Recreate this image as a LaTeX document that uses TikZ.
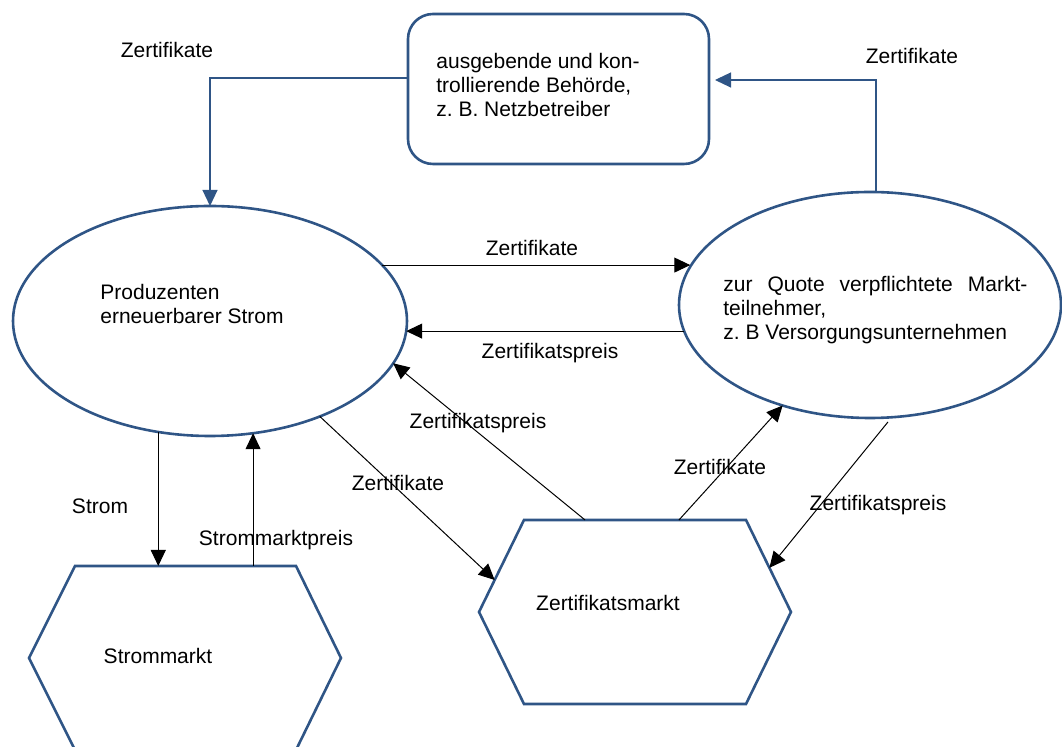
\documentclass[tikz,border=0pt]{standalone}
\usepackage{fontspec}
\setmainfont{Liberation Sans}
\usetikzlibrary{arrows.meta,calc,shapes.geometric}
\definecolor{shapeblue}{RGB}{47,85,134}
\tolerance=9999
\hyphenpenalty=10000
\begin{document}
\begin{tikzpicture}[x=0.5pt,y=-0.5pt,
  font=\fontsize{10.5}{12}\selectfont,
  shapeline/.style={draw=shapeblue, line width=1.3pt, inner sep=0pt, outer sep=0pt},
  blueflow/.style={draw=shapeblue, line width=0.6pt, -{Triangle[length=8pt,width=7.5pt]}},
  flow/.style={draw=black, line width=0.5pt, -{Triangle[length=8pt,width=7.5pt]}},
  lbl/.style={inner sep=0pt, text height=7.5pt, text depth=0pt}]
\useasboundingbox (0,0) rectangle (1062,747);

% shapes
\node[shapeline, rounded corners=12.5pt, minimum width=150.5pt, minimum height=75pt] (box) at (558.5,89) {};
\node[shapeline, ellipse, minimum width=197pt, minimum height=115pt] (L) at (210,321) {};
\node[shapeline, ellipse, minimum width=191pt, minimum height=113pt] (R) at (870,305) {};

\coordinate (s1) at (75,566);  \coordinate (s2) at (296,566);
\coordinate (s3) at (341,658); \coordinate (s4) at (296,750);
\coordinate (s5) at (75,750);  \coordinate (s6) at (29,658);
\draw[shapeline] (s1) -- (s2) -- (s3) -- (s4) -- (s5) -- (s6) -- cycle;

\coordinate (z1) at (524,520); \coordinate (z2) at (746,520);
\coordinate (z3) at (791,612); \coordinate (z4) at (746,704);
\coordinate (z5) at (524,704); \coordinate (z6) at (479,612);
\draw[shapeline] (z1) -- (z2) -- (z3) -- (z4) -- (z5) -- (z6) -- cycle;

% texts in shapes
\node[inner sep=0pt, anchor=west, align=left] (boxtxt) at (436,85) {ausgebende und kon-\\trollierende Behörde,\\z.\ B.\ Netzbetreiber};
\node[inner sep=0pt, anchor=west, align=left] (Ltxt) at (100,304) {Produzenten\\erneuerbarer Strom};
\node[inner sep=0pt, anchor=west, text width=152pt, align=justify] (Rtxt) at (723,310) {zur Quote verpflichtete Markt-\linebreak teilnehmer,\newline z.\ B Versorgungsunternehmen};
\node[lbl] (tS) at (158,656) {Strommarkt};
\node[lbl] (tZ) at (608,603) {Zertifikatsmarkt};

% connectors
\draw[blueflow] ([yshift=5.5pt]box.west) -| (L.north);
\draw[blueflow, shorten >=3pt] ([xshift=3pt]R.north) |- ([yshift=4.5pt]box.east);
\draw[flow] (L.18) -- (L.18 -| R.168);
\draw[flow] (R.188) -- (L.357 |- R.188);
\draw[flow] ($(z1)!0.275!(z2)$) -- (L.347);
\draw[flow] (L.319) -- ($(z1)!0.652!(z6)$);
\draw[flow] ($(z1)!0.698!(z2)$) -- (R.229);
\draw[flow, shorten <=3pt] (R.281) -- ($(z2)!0.52!(z3)$);
\draw[flow] (L.245) -- (L.245 |- s1);
\draw[flow] (L.291 |- s1) -- (L.291);

% labels
\node[lbl] (l1) at (167,50) {Zertifikate};
\node[lbl] (l2) at (912,56) {Zertifikate};
\node[lbl] (l3) at (532,248) {Zertifikate};
\node[lbl] (l4) at (550,351) {Zertifikatspreis};
\node[lbl] (l5) at (478,421) {Zertifikatspreis};
\node[lbl] (l6) at (398,483) {Zertifikate};
\node[lbl] (l7) at (100,506) {Strom};
\node[lbl] (l8) at (276,538) {Strommarktpreis};
\node[lbl] (l9) at (720,467) {Zertifikate};
\node[lbl] (l10) at (878,503) {Zertifikatspreis};
\end{tikzpicture}
\end{document}
